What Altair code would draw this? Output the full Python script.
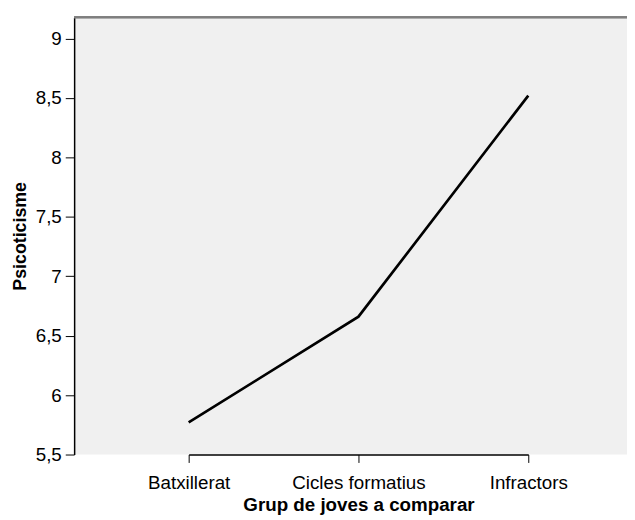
import altair as alt
import pandas as pd

groups = ["Batxillerat", "Cicles formatius", "Infractors"]
values = [5.77, 6.66, 8.52]

df = pd.DataFrame({"grup": groups, "psico": values})

FONT = "Liberation Sans"

x_enc = alt.X("grup:N", sort=groups, title="Grup de joves a comparar",
              scale=alt.Scale(type="point", padding=0, range=[116, 460]),
              axis=alt.Axis(labelAngle=0, domainColor="black", domainWidth=1.5,
                            tickColor="black", tickSize=8,
                            labelFont=FONT, labelFontSize=19, labelColor="black",
                            titleFont=FONT, titleFontSize=19, titleFontWeight="bold",
                            titleColor="black", labelPadding=11, titlePadding=4, grid=False))
y_enc = alt.Y("psico:Q", title="Psicoticisme",
              scale=alt.Scale(domain=[5.5, 9.18], nice=False, zero=False),
              axis=alt.Axis(values=[5.5, 6, 6.5, 7, 7.5, 8, 8.5, 9],
                            labelExpr="replace(format(datum.value, ''), '.', ',')",
                            domainColor="black", domainWidth=1.5,
                            tickColor="black", tickSize=9,
                            labelFont=FONT, labelFontSize=19, labelColor="black",
                            titleFont=FONT, titleFontSize=18,
                            titleFontWeight="bold", titleColor="black",
                            labelPadding=4, titlePadding=6, grid=False))

line = alt.Chart(df).mark_line(color="black", strokeWidth=2.7).encode(x=x_enc, y=y_enc)

top = alt.Chart(df).mark_rule(color="#7f7f7f", strokeWidth=2).encode(
    x=alt.value(0), x2=alt.value(560), y=alt.value(0))

chart = alt.layer(line, top).properties(
    width=560, height=443,
    autosize=alt.AutoSizeParams(type="none"),
    padding={"left": 67, "top": 6, "right": 0, "bottom": 62},
    background="white",
).configure_view(fill="#f0f0f0", stroke=None)

chart.save("out.html", embed_options={"renderer": "svg", "actions": False})
